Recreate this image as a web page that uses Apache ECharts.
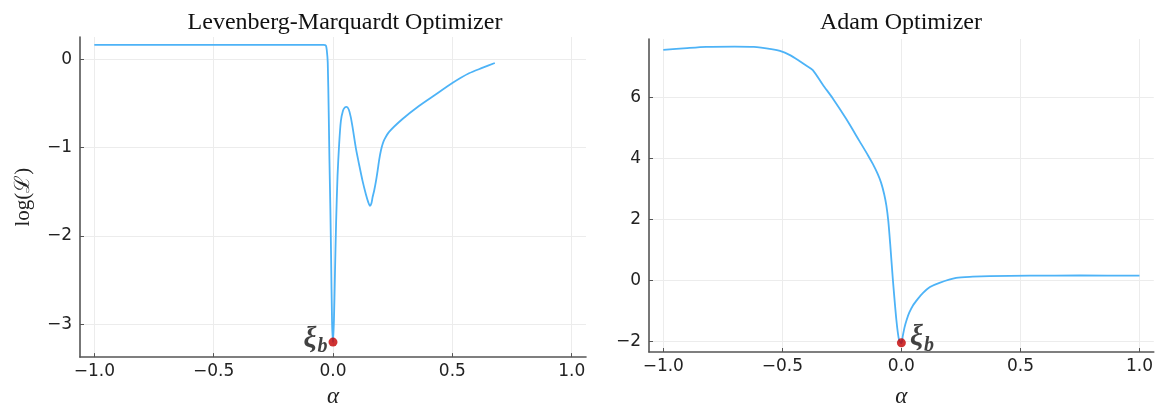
<!DOCTYPE html>
<html>
<head>
<meta charset="utf-8">
<script src="https://cdn.jsdelivr.net/npm/echarts@6/dist/echarts.min.js"></script>
<style>
html, body { margin: 0; padding: 0; background: #fff; }
#chart { width: 1156px; height: 413px; }
</style>
</head>
<body>
<div id="chart"></div>
<script>
// Levenberg-Marquardt curve (alpha, log L)
var lmAlpha = [-1.0, -0.5, -0.04, -0.03, -0.026, -0.022, -0.018, -0.015, -0.011, -0.008, -0.004, 0,
	0.004, 0.008, 0.013, 0.019, 0.026, 0.033, 0.042, 0.05, 0.057, 0.066, 0.074, 0.082, 0.096, 0.11,
	0.124, 0.138, 0.148, 0.155, 0.161, 0.166, 0.173, 0.18, 0.187, 0.194, 0.201, 0.208, 0.215, 0.236,
	0.29, 0.36, 0.43, 0.5, 0.57, 0.625, 0.678];
var lmLoss = [0.16, 0.16, 0.16, 0.155, 0.1, -0.04, -0.6, -1.13, -1.7, -2.23, -2.97, -3.2,
	-2.95, -2.45, -1.85, -1.32, -0.95, -0.70, -0.58, -0.545, -0.54, -0.57, -0.65, -0.77, -1.01, -1.2,
	-1.38, -1.53, -1.62, -1.66, -1.63, -1.56, -1.48, -1.38, -1.26, -1.13, -1.03, -0.96, -0.91, -0.82,
	-0.68, -0.53, -0.40, -0.27, -0.16, -0.1, -0.044];

// Adam curve (alpha, log L)
var adamAlpha = [-1.0, -0.9, -0.82, -0.7, -0.62, -0.54, -0.51, -0.47, -0.43, -0.4, -0.372, -0.33,
	-0.288, -0.232, -0.176, -0.14, -0.12, -0.1, -0.085, -0.072, -0.063, -0.055, -0.047, -0.036, -0.021,
	-0.01, 0, 0.006, 0.013, 0.022, 0.033, 0.048, 0.07, 0.09, 0.12, 0.16, 0.23, 0.3, 0.37, 0.54, 0.75, 1.0];
var adamLoss = [7.56, 7.62, 7.66, 7.67, 7.66, 7.58, 7.53, 7.4, 7.21, 7.05, 6.9, 6.42,
	5.97, 5.3, 4.57, 4.1, 3.82, 3.5, 3.2, 2.82, 2.45, 1.95, 1.2, 0.05, -1.3,
	-1.95, -2.06, -1.82, -1.55, -1.3, -1.06, -0.83, -0.6, -0.42, -0.22, -0.08, 0.08, 0.12, 0.14, 0.155, 0.16, 0.155];

var xTicks = [-1, -0.5, 0, 0.5, 1];
var lmYTicks = [-3, -2, -1, 0];
var adamYTicks = [-2, 0, 2, 4, 6];
var lmBest = [0, -3.2];
var adamBest = [0, -2.05];
var titles = ['Levenberg-Marquardt Optimizer', 'Adam Optimizer'];

function zip(a, b) {
	var out = [];
	for (var i = 0; i < a.length; i++) out.push([a[i], b[i]]);
	return out;
}
function minus(s) {
	return String(s).replace('-', '\u2212');
}

var axisColor = '#555';
var gridColor = '#ececec';
var lineColor = '#4db3f7';
var serif = '"Liberation Serif", "DejaVu Serif", serif';

function xAxisOpt(idx, gap) {
	return {
		type : 'value',
		gridIndex : idx,
		min : -1.06,
		max : 1.06,
		name : '\u03b1',
		nameLocation : 'middle',
		nameGap : gap,
		nameTextStyle : { fontFamily : serif, fontStyle : 'italic', fontSize : 23, color : '#222' },
		axisLine : { show : true, onZero : false, lineStyle : { color : axisColor, width : 1.6 } },
		axisTick : { show : true, inside : true, length : 4, customValues : xTicks, lineStyle : { color : axisColor } },
		axisLabel : {
			customValues : xTicks,
			margin : 6,
			fontFamily : 'DejaVu Sans',
			fontSize : 17,
			color : '#222',
			formatter : function(v) { return minus(v.toFixed(1)); }
		},
		splitLine : { show : true, lineStyle : { color : gridColor, width : 1 } }
	};
}
function yAxisOpt(idx, min, max, ticks, name) {
	return {
		type : 'value',
		gridIndex : idx,
		min : min,
		max : max,
		name : name,
		nameLocation : 'middle',
		nameGap : 46,
		nameTextStyle : { fontFamily : serif, fontSize : 21, color : '#222' },
		axisLine : { show : true, onZero : false, lineStyle : { color : axisColor, width : 1.6 } },
		axisTick : { show : true, inside : true, length : 4, customValues : ticks, lineStyle : { color : axisColor } },
		axisLabel : {
			customValues : ticks,
			margin : 8,
			fontFamily : 'DejaVu Sans',
			fontSize : 17,
			color : '#222',
			formatter : function(v) { return minus(v); }
		},
		splitLine : { show : true, lineStyle : { color : gridColor, width : 1 } }
	};
}

var xiRich = {
	x : { fontFamily : serif, fontStyle : 'italic', fontWeight : 'bold', fontSize : 29, color : '#111', padding : [0, 0, 6, 0] },
	s : { fontFamily : serif, fontStyle : 'italic', fontWeight : 'bold', fontSize : 20, color : '#111', padding : [10, 0, 0, 1] }
};

var myChart = echarts.init(document.getElementById('chart'));
myChart.setOption({
	animation : false,
	backgroundColor : '#fff',
	title : [ {
		text : titles[0],
		left : 345,
		top : 11,
		padding : 0,
		textAlign : 'center',
		textStyle : { fontFamily : serif, fontWeight : 'normal', fontSize : 24, color : '#111' }
	}, {
		text : titles[1],
		left : 901,
		top : 11,
		padding : 0,
		textAlign : 'center',
		textStyle : { fontFamily : serif, fontWeight : 'normal', fontSize : 24, color : '#111' }
	} ],
	grid : [
		{ left : 80, top : 37, width : 506, height : 330 },
		{ left : 649, top : 39, width : 505, height : 330 }
	],
	xAxis : [ xAxisOpt(0, 25), xAxisOpt(1, 33) ],
	yAxis : [
		yAxisOpt(0, -3.37, 0.25, lmYTicks, 'log(\u2112)'),
		yAxisOpt(1, -2.35, 7.92, adamYTicks, '')
	],
	series : [ {
		type : 'line',
		xAxisIndex : 0,
		yAxisIndex : 0,
		data : zip(lmAlpha, lmLoss),
		showSymbol : false,
		smooth : 0.25,
		lineStyle : { color : lineColor, width : 1.8 }
	}, {
		type : 'line',
		xAxisIndex : 1,
		yAxisIndex : 1,
		data : zip(adamAlpha, adamLoss),
		showSymbol : false,
		smooth : 0.25,
		lineStyle : { color : lineColor, width : 1.8 }
	}, {
		type : 'scatter',
		xAxisIndex : 0,
		yAxisIndex : 0,
		data : [ lmBest ],
		symbolSize : 9,
		z : 5,
		itemStyle : { color : '#c40000' },
		label : { show : true, position : 'left', distance : 1, formatter : '{x|\u03be}{s|b}', rich : xiRich }
	}, {
		type : 'scatter',
		xAxisIndex : 1,
		yAxisIndex : 1,
		data : [ adamBest ],
		symbolSize : 9,
		z : 5,
		itemStyle : { color : '#c40000' },
		label : { show : true, position : 'right', distance : 4, offset : [0, -2], formatter : '{x|\u03be}{s|b}', rich : xiRich }
	} ]
});
</script>
</body>
</html>
